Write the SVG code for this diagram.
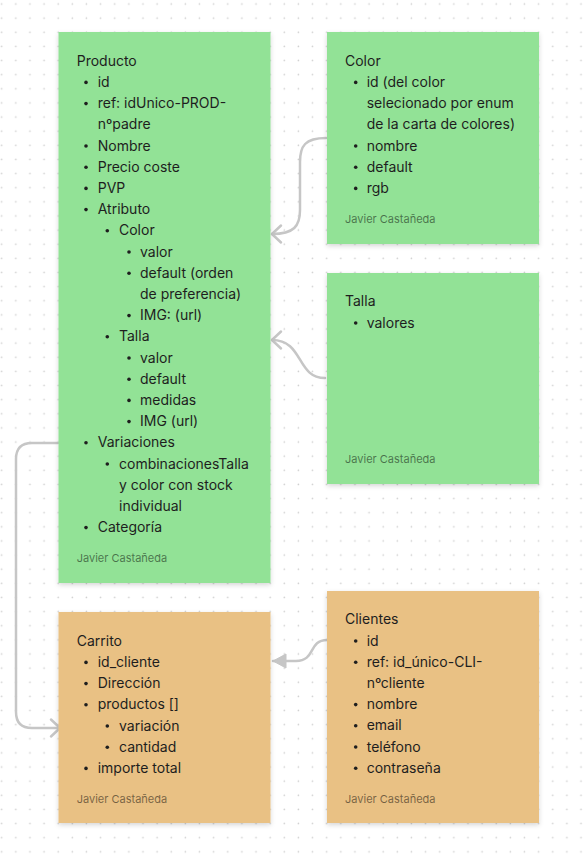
<svg xmlns="http://www.w3.org/2000/svg" width="583" height="858" viewBox="0 0 583 858">
<defs>
<pattern id="dots" x="-5.3" y="-3" width="14.13" height="14.13" patternUnits="userSpaceOnUse">
<circle cx="7" cy="7" r="0.8" fill="#cfcfcf"/>
</pattern>
<filter id="sh" x="-10%" y="-10%" width="120%" height="120%">
<feDropShadow dx="0" dy="2" stdDeviation="2.5" flood-color="#000" flood-opacity="0.16"/>
</filter>
<marker id="chev" markerUnits="userSpaceOnUse" markerWidth="24" markerHeight="24" viewBox="-12 -12 24 24" refX="0" refY="0" orient="auto">
<path d="M -9 -8.5 L 0 0 L -9 8.5" fill="none" stroke="#c6c6c6" stroke-width="2.5" stroke-linecap="round" stroke-linejoin="round"/>
</marker>
<marker id="tri" markerUnits="userSpaceOnUse" markerWidth="24" markerHeight="24" viewBox="-16 -12 24 24" refX="0" refY="0" orient="auto">
<path d="M -13 -7 L 0 0 L -13 7 Z" fill="#c6c6c6" stroke="#c6c6c6" stroke-width="1" stroke-linejoin="round"/>
</marker>
</defs>
<style>
.t{font-family:Inter,"Noto Sans","Liberation Sans",sans-serif;font-size:14px;fill:#1e1e1e}
.f{font-family:Inter,"Noto Sans","Liberation Sans",sans-serif;font-size:11px;fill:#000;fill-opacity:.5}
.g{fill:#92e296;filter:url(#sh)}
.o{fill:#e9c184;filter:url(#sh)}
.b{fill:#1e1e1e}
.c{fill:none;stroke:#c6c6c6;stroke-width:2.5;stroke-linecap:round}
</style>
<rect width="583" height="858" fill="#fff"/>
<rect width="583" height="858" fill="url(#dots)"/>

<g id="connectors">
<path class="c" d="M 326 138 C 305 138 300 146 300 162 L 300 210 C 300 226 294 234 272 234" marker-end="url(#chev)"/>
<path class="c" d="M 325 378 C 296 378 304 340 272 340" marker-end="url(#chev)"/>
<path class="c" d="M 58 443 L 32 443 Q 16 443 16 459 L 16 712 Q 16 728 32 728 L 60 728" marker-end="url(#chev)"/>
<path class="c" d="M 327 640 C 308 640 316 661 296 661 L 273 661" marker-end="url(#tri)"/>
</g>

<g id="producto">
<rect class="g" x="58.5" y="32" width="212" height="551"/>
<text class="t" x="76.7" y="65.7">Producto</text>
<g class="b">
<circle cx="86" cy="82.4" r="1.8"/>
<circle cx="86" cy="103.6" r="1.8"/>
<circle cx="86" cy="146" r="1.8"/>
<circle cx="86" cy="167.2" r="1.8"/>
<circle cx="86" cy="188.4" r="1.8"/>
<circle cx="86" cy="209.6" r="1.8"/>
<circle cx="107.3" cy="230.8" r="1.8"/>
<circle cx="129" cy="252" r="1.8"/>
<circle cx="129" cy="273.2" r="1.8"/>
<circle cx="129" cy="315.6" r="1.8"/>
<circle cx="107.3" cy="336.8" r="1.8"/>
<circle cx="129" cy="358" r="1.8"/>
<circle cx="129" cy="379.2" r="1.8"/>
<circle cx="129" cy="400.4" r="1.8"/>
<circle cx="129" cy="421.6" r="1.8"/>
<circle cx="86" cy="442.8" r="1.8"/>
<circle cx="107.3" cy="464" r="1.8"/>
<circle cx="86" cy="527.6" r="1.8"/>
</g>
<text class="t" x="97.7" y="86.9">id</text>
<text class="t" x="97.7" y="108.1">ref: idUnico-PROD-</text>
<text class="t" x="97.7" y="129.3">nºpadre</text>
<text class="t" x="97.7" y="150.5">Nombre</text>
<text class="t" x="97.7" y="171.7">Precio coste</text>
<text class="t" x="97.7" y="192.9">PVP</text>
<text class="t" x="97.7" y="214.1">Atributo</text>
<text class="t" x="119" y="235.3">Color</text>
<text class="t" x="140" y="256.5">valor</text>
<text class="t" x="140" y="277.7">default (orden</text>
<text class="t" x="140" y="298.9">de preferencia)</text>
<text class="t" x="140" y="320.1">IMG: (url)</text>
<text class="t" x="119" y="341.3">Talla</text>
<text class="t" x="140" y="362.5">valor</text>
<text class="t" x="140" y="383.7">default</text>
<text class="t" x="140" y="404.9">medidas</text>
<text class="t" x="140" y="426.1">IMG (url)</text>
<text class="t" x="97.7" y="447.3">Variaciones</text>
<text class="t" x="119" y="468.5">combinacionesTalla</text>
<text class="t" x="119" y="489.7">y color con stock</text>
<text class="t" x="119" y="510.9">individual</text>
<text class="t" x="97.7" y="532.1">Categoría</text>
<text class="f" x="76.7" y="562">Javier Castañeda</text>
</g>

<g id="color">
<rect class="g" x="327" y="32" width="212" height="212"/>
<text class="t" x="345" y="65.7">Color</text>
<g class="b">
<circle cx="355.7" cy="82.4" r="1.8"/>
<circle cx="355.7" cy="146" r="1.8"/>
<circle cx="355.7" cy="167.2" r="1.8"/>
<circle cx="355.7" cy="188.4" r="1.8"/>
</g>
<text class="t" x="366.7" y="86.9">id (del color</text>
<text class="t" x="366.7" y="108.1">selecionado por enum</text>
<text class="t" x="366.7" y="129.3">de la carta de colores)</text>
<text class="t" x="366.7" y="150.5">nombre</text>
<text class="t" x="366.7" y="171.7">default</text>
<text class="t" x="366.7" y="192.9">rgb</text>
<text class="f" x="345" y="222.5">Javier Castañeda</text>
</g>

<g id="talla">
<rect class="g" x="327" y="273" width="212" height="211"/>
<text class="t" x="345" y="306.3">Talla</text>
<circle class="b" cx="355.7" cy="323" r="1.8"/>
<text class="t" x="366.7" y="327.5">valores</text>
<text class="f" x="345" y="463">Javier Castañeda</text>
</g>

<g id="carrito">
<rect class="o" x="58.5" y="612" width="212" height="211"/>
<text class="t" x="76.7" y="645.7">Carrito</text>
<g class="b">
<circle cx="86" cy="662.4" r="1.8"/>
<circle cx="86" cy="683.6" r="1.8"/>
<circle cx="86" cy="704.8" r="1.8"/>
<circle cx="107.3" cy="726" r="1.8"/>
<circle cx="107.3" cy="747.2" r="1.8"/>
<circle cx="86" cy="768.4" r="1.8"/>
</g>
<text class="t" x="97.7" y="666.9">id_cliente</text>
<text class="t" x="97.7" y="688.1">Dirección</text>
<text class="t" x="97.7" y="709.3">productos []</text>
<text class="t" x="119" y="730.5">variación</text>
<text class="t" x="119" y="751.7">cantidad</text>
<text class="t" x="97.7" y="772.9">importe total</text>
<text class="f" x="76.7" y="802.5">Javier Castañeda</text>
</g>

<g id="clientes">
<rect class="o" x="327" y="591" width="212" height="232"/>
<text class="t" x="345" y="624.3">Clientes</text>
<g class="b">
<circle cx="355.7" cy="641" r="1.8"/>
<circle cx="355.7" cy="662.2" r="1.8"/>
<circle cx="355.7" cy="704.6" r="1.8"/>
<circle cx="355.7" cy="725.8" r="1.8"/>
<circle cx="355.7" cy="747" r="1.8"/>
<circle cx="355.7" cy="768.2" r="1.8"/>
</g>
<text class="t" x="366.7" y="645.5">id</text>
<text class="t" x="366.7" y="666.7">ref: id_único-CLI-</text>
<text class="t" x="366.7" y="687.9">nºcliente</text>
<text class="t" x="366.7" y="709.1">nombre</text>
<text class="t" x="366.7" y="730.3">email</text>
<text class="t" x="366.7" y="751.5">teléfono</text>
<text class="t" x="366.7" y="772.7">contraseña</text>
<text class="f" x="345" y="802.5">Javier Castañeda</text>
</g>
</svg>
